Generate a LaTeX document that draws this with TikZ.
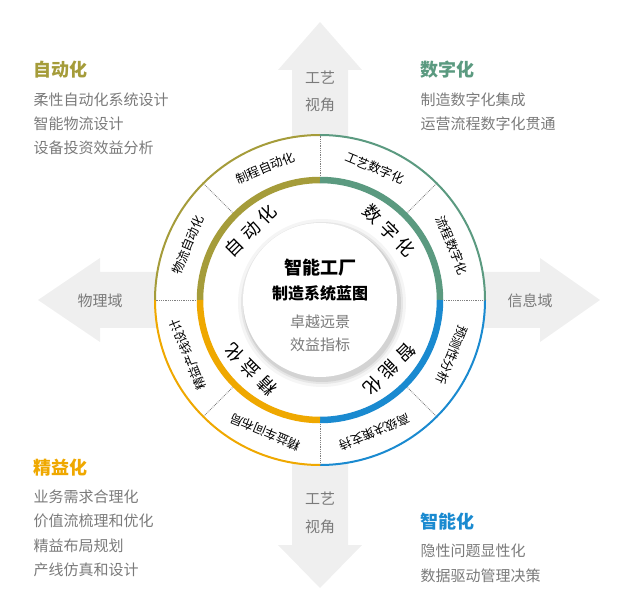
\documentclass[tikz,border=0pt]{standalone}
\usepackage{fontspec}
\setmainfont{Noto Sans CJK SC}
\usetikzlibrary{positioning}
\definecolor{olive}{HTML}{A59C3A}
\definecolor{teal}{HTML}{5B9A80}
\definecolor{azure}{HTML}{1A8AD0}
\definecolor{amber}{HTML}{EFA800}
\definecolor{txt}{HTML}{7A7A7A}
\definecolor{arr}{HTML}{EFEFEF}
\tikzset{
  head/.style={anchor=west, font=\fontsize{18}{20}\selectfont\bfseries},
  item/.style={anchor=west, text=txt, font=\fontsize{15}{17}\selectfont},
  axis/.style={text=txt, font=\fontsize{15}{17}\selectfont},
  ring/.style={font=\fontsize{12.5}{14}\selectfont},
  core/.style={font=\fontsize{18}{20}\selectfont},
}
\begin{document}
\begin{tikzpicture}[x=1pt,y=-1pt]
  \useasboundingbox (0,0) rectangle (640,612);
  % cross arrows
  \fill[arr] (320,22) -- (362,70) -- (348,70) -- (348,545) -- (362,545) -- (320,588)
    -- (278,545) -- (292,545) -- (292,70) -- (278,70) -- cycle;
  \fill[arr] (38,300) -- (100,258) -- (100,272) -- (540,272) -- (540,258) -- (600,300)
    -- (540,342) -- (540,328) -- (100,328) -- (100,342) -- cycle;
  \node[axis] (t1) at (320,78) {工艺};
  \node[axis] (t2) at (320,105) {视角};
  \node[axis] (b1) at (320,499) {工艺};
  \node[axis] (b2) at (320,527) {视角};
  \node[axis] (phy) at (100,301) {物理域};
  \node[axis] (inf) at (530,301) {信息域};
  % rings
  \begin{scope}[shift={(320,300)}, y=1pt]
    \fill[white] (0,0) circle (165);
    \foreach \a/\col in {90/olive,0/teal,-90/azure,-180/amber} {
      \draw[\col, line width=2pt] (\a:165) arc[start angle=\a, delta angle=90, radius=165];
      \draw[\col, line width=6.5pt] (\a:120) arc[start angle=\a, delta angle=90, radius=120];
    }
    \foreach \a in {0,45,...,315}
      \draw[densely dotted, gray, line width=0.8pt] (\a:124) -- (\a:164);
    \foreach \a/\s in {112.5/制程自动化,157.5/物流自动化,67.5/工艺数字化,22.5/流程数字化,
        -22.5/预测性分析,-67.5/高级决策支持,-112.5/精益车间布局,-157.5/精益产线设计}
      \node[ring, rotate=\a-90] at (\a:143) {\s};
    \foreach \a/\s in {135/自\;动\;化,45/数\;字\;化,-45/智\;能\;化,-135/精\;益\;化}
      \node[core, rotate=\a-90] at (\a:98) {\s};
    % centre disc
    \foreach \r/\o in {84/0.04,81/0.06,79/0.08}
      \fill[black, opacity=\o] (2,-3) circle (\r);
    \fill[white] (0,0) circle (77);
  \end{scope}
  \node[font=\fontsize{18}{20}\selectfont\bfseries] (f1) at (320,268) {智能工厂};
  \node[font=\fontsize{16}{18}\selectfont\bfseries] (f2) at (320,293) {制造系统蓝图};
  \node[axis] (f3) at (320,322) {卓越远景};
  \node[axis] (f4) at (320,345) {效益指标};
  % corner texts
  \node[head, text=olive] (h1) at (30,70) {自动化};
  \foreach \y/\s in {100/柔性自动化系统设计,124/智能物流设计,148/设备投资效益分析}
    \node[item] at (30,\y) {\s};
  \node[head, text=teal] (h2) at (417,70) {数字化};
  \foreach \y/\s in {100/制造数字化集成,124/运营流程数字化贯通}
    \node[item] at (417,\y) {\s};
  \node[head, text=amber] (h3) at (30,468) {精益化};
  \foreach \y/\s in {497/业务需求合理化,521/价值流梳理和优化,546/精益布局规划,570/产线仿真和设计}
    \node[item] at (30,\y) {\s};
  \node[head, text=azure] (h4) at (417,522) {智能化};
  \foreach \y/\s in {551/隐性问题显性化,576/数据驱动管理决策}
    \node[item] at (417,\y) {\s};
\end{tikzpicture}
\end{document}
